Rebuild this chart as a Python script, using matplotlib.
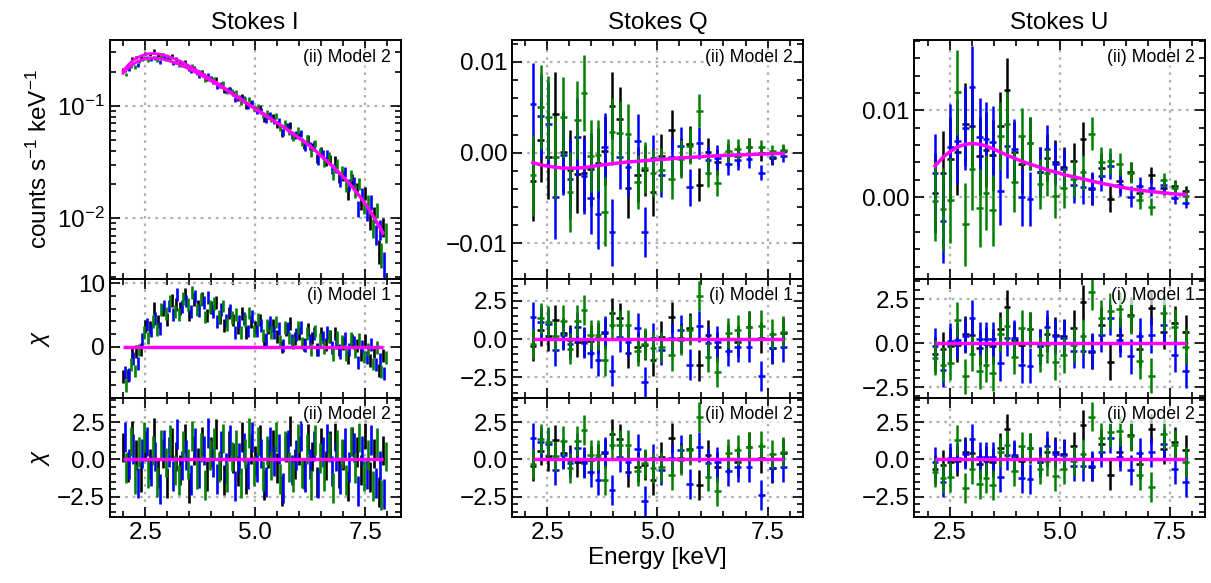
import numpy as np
import matplotlib
matplotlib.use("Agg")
import matplotlib.pyplot as plt
from matplotlib.ticker import MultipleLocator, FixedLocator, FuncFormatter

plt.rcParams['font.family'] = ['Liberation Sans', 'DejaVu Sans']
plt.rcParams['mathtext.fontset'] = 'custom'
plt.rcParams['mathtext.rm'] = 'Liberation Sans'
plt.rcParams['mathtext.it'] = 'Liberation Sans:italic'
plt.rcParams['font.size'] = 17.5

#==================================================================================================================
# data : three detectors (black, blue, green)
#==================================================================================================================

DET_COLORS = ["black", "blue", "green"]

# Stokes I spectra, 0.1 keV channels, each detector shifted slightly in energy
E_I = [2.0, 2.1, 2.2, 2.3, 2.4, 2.5, 2.6, 2.7, 2.8, 2.9, 3.0, 3.1, 3.2, 3.3, 3.4, 3.5, 3.6, 3.7, 3.8, 3.9,
       4.0, 4.1, 4.2, 4.3, 4.4, 4.5, 4.6, 4.7, 4.8, 4.9, 5.0, 5.1, 5.2, 5.3, 5.4, 5.5, 5.6, 5.7, 5.8, 5.9,
       6.0, 6.1, 6.2, 6.3, 6.4, 6.5, 6.6, 6.7, 6.8, 6.9, 7.0, 7.1, 7.2, 7.3, 7.4, 7.5, 7.6, 7.7, 7.8, 7.9]
DET_SHIFT = [0.0, 0.033, 0.067]
BIN_WIDTH = 0.1
EXPOSURE = 33000.0

I_BLACK = [.2113, .2238, .2639, .2687, .2670, .2944, .2892, .3089, .2816, .2887, .2633, .2789, .2608, .2439, .2499,
           .2112, .2198, .2024, .2022, .1738, .1756, .1749, .1513, .1357, .1418, .1286, .1161, .1228, .0996, .1049,
           .0945, .0968, .0764, .0820, .0798, .0682, .0575, .0665, .0670, .0543, .0544, .0451, .0509, .0432, .0340,
           .0396, .0320, .0332, .0327, .0232, .0243, .0167, .0221, .0183, .0138, .0169, .0095, .0109, .0052, .0084]
I_BLUE = [.2062, .2126, .2377, .2317, .2584, .2712, .2582, .2677, .2469, .2685, .2592, .2388, .2539, .2288, .2244,
          .2021, .2114, .1863, .1884, .1878, .1646, .1482, .1550, .1371, .1412, .1140, .1186, .1156, .0994, .1071,
          .0904, .0900, .0756, .0838, .0735, .0732, .0576, .0663, .0551, .0557, .0572, .0435, .0438, .0450, .0332,
          .0371, .0372, .0277, .0282, .0217, .0260, .0198, .0208, .0122, .0164, .0113, .0140, .0072, .0080, .0039]
I_GREEN = [.1905, .2244, .2215, .2491, .2676, .2534, .2701, .2532, .2725, .2583, .2659, .2422, .2285, .2393, .2196,
           .2254, .1954, .1989, .1716, .1771, .1737, .1536, .1583, .1333, .1343, .1311, .1085, .1133, .1151, .0947,
           .0993, .0824, .0860, .0761, .0811, .0641, .0700, .0598, .0530, .0601, .0475, .0506, .0387, .0464, .0389,
           .0319, .0353, .0244, .0305, .0264, .0194, .0240, .0175, .0203, .0128, .0139, .0083, .0119, .0048, .0076]

# model 2 curves for Stokes I (upper: black unit, lower: blue/green units)
I_MODEL_HI = [.205, .228, .250, .266, .278, .286, .292, .292, .290, .285, .278, .269, .259, .250, .238, .227, .215,
              .204, .193, .182, .172, .163, .154, .145, .136, .128, .121, .114, .107, .101, .095, .090, .085, .080,
              .075, .071, .067, .063, .059, .0555, .052, .049, .0457, .0425, .0392, .036, .0333, .0305, .028, .0257,
              .0235, .0213, .0192, .0172, .0153, .0135, .0118, .0102, .0088, .0075]
I_MODEL_LO = [.195, .215, .232, .245, .255, .261, .265, .266, .264, .260, .255, .248, .240, .232, .222, .213, .203,
              .193, .184, .175, .166, .157, .149, .141, .133, .125, .118, .111, .105, .099, .093, .088, .083, .078,
              .074, .070, .066, .062, .058, .0545, .051, .048, .0449, .0418, .0386, .0355, .0328, .0301, .0276,
              .0253, .0231, .0210, .0189, .0169, .0151, .0133, .0116, .0100, .0086, .0073]

# residuals of Stokes I, model 1
I_CHI1_BLACK = [-4.7, -4.5, -0.9, -0.7, -0.4, 3.2, 3.1, 6.0, 4.0, 5.8, 4.3, 7.3, 6.7, 6.0, 8.3, 5.0, 7.4, 6.4, 7.6,
                4.9, 6.2, 7.0, 4.6, 3.3, 5.3, 4.2, 3.1, 5.2, 2.2, 4.0, 3.0, 4.2, 1.0, 3.0, 3.4, 1.6, 0.0, 2.7, 3.7,
                1.3, 2.1, 0.4, 2.7, 1.4, -0.4, 2.1, 0.4, 1.6, 2.1, -0.5, 0.5, -1.7, 1.1, 0.2, -1.2, 1.0, -2.1, -0.8,
                -3.7, -1.3]
I_CHI1_BLUE = [-4.0, -4.3, -1.8, -2.6, 1.2, 3.5, 2.6, 4.4, 2.9, 6.4, 6.4, 5.1, 8.2, 6.3, 7.2, 5.5, 7.9, 5.7, 7.0,
               7.8, 5.5, 4.0, 5.9, 4.1, 5.7, 2.3, 4.0, 4.5, 2.5, 4.8, 2.6, 3.3, 1.2, 3.8, 2.3, 2.9, 0.2, 2.9, 1.1,
               1.9, 3.1, 0.2, 1.0, 2.1, -0.5, 1.5, 2.2, -0.1, 0.7, -0.9, 1.3, -0.4, 0.7, -2.4, 0.1, -1.7, 0.4, -2.8,
               -1.9, -4.2]
I_CHI1_GREEN = [-6.1, -2.8, -3.8, -0.5, 2.3, 1.4, 4.0, 2.7, 5.9, 5.2, 7.2, 5.5, 5.1, 7.6, 6.6, 8.5, 5.8, 7.4, 4.7,
                6.3, 6.8, 4.8, 6.4, 3.5, 4.6, 5.1, 2.3, 4.1, 5.3, 2.5, 4.3, 1.8, 3.3, 2.2, 3.9, 0.9, 3.0, 1.4, 0.6,
                3.0, 0.6, 2.1, -0.4, 2.5, 1.2, -0.1, 1.6, -1.2, 1.5, 0.8, -1.2, 1.3, -0.7, 1.2, -1.6, -0.4, -2.7,
                -0.1, -3.9, -1.7]

# residuals of Stokes I, model 2
I_CHI2_BLACK = [0.8, -0.5, 1.6, 0.3, -1.2, 0.9, -0.3, 1.8, -0.9, 0.4, -1.6, 1.1, 0.2, -0.7, 1.4, -1.9, 0.6, -0.2,
                1.2, -1.1, 0.5, 1.7, -0.4, -1.4, 0.9, 0.1, -0.8, 1.5, -1.3, 0.7, -0.1, 1.3, -1.7, 0.4, 1.0, -0.6,
                -2.1, 0.8, 1.9, -0.3, 0.6, -1.0, 1.4, 0.2, -1.5, 1.1, -0.4, 0.9, 1.6, -0.9, 0.3, -1.8, 1.2, 0.5,
                -0.7, 1.7, -1.2, 0.4, -2.2, 0.6]
I_CHI2_BLUE = [1.5, -0.3, 0.7, -1.6, 0.4, 1.2, -0.8, 0.2, -2.0, 1.0, 0.5, -1.1, 1.7, -0.4, 0.3, -1.4, 1.1, -0.9,
               0.6, 1.8, -0.2, -1.3, 0.9, -0.6, 1.3, -1.8, 0.1, 0.8, -1.0, 1.5, -0.5, 0.4, -1.5, 1.2, -0.1, 0.7,
               -1.9, 1.0, -0.7, 0.3, 1.6, -1.2, -0.3, 0.9, -1.6, 0.5, 1.4, -0.8, 0.2, -1.3, 1.1, -0.5, 0.8, -2.1,
               0.6, -1.0, 1.3, -1.6, -0.4, -2.3]
I_CHI2_GREEN = [-0.6, 1.2, -1.3, 0.5, 1.5, -0.9, 0.6, -1.5, 1.0, -0.2, 1.3, -0.7, -1.4, 0.9, -0.3, 1.6, -1.0, 0.8,
                -1.7, 0.3, 1.1, -0.5, 1.4, -1.2, 0.2, 1.0, -1.6, 0.4, 1.8, -0.8, 1.2, -1.1, 0.6, -0.4, 1.5, -1.3,
                0.9, -0.5, -1.2, 1.4, -0.9, 0.7, -1.7, 1.3, 0.1, -1.1, 0.8, -1.9, 1.0, 0.4, -1.4, 1.2, -0.6, 1.5,
                -1.1, 0.3, -1.8, 1.1, -2.4, 0.2]

# Stokes Q and U, rebinned (values in units of 1e-3 counts s^-1 keV^-1)
E_QU = [2.17, 2.35, 2.52, 2.68, 2.86, 3.01, 3.18, 3.33, 3.48, 3.65, 3.80, 3.97, 4.14, 4.33, 4.55,
        4.71, 4.90, 5.09, 5.32, 5.53, 5.73, 5.95, 6.15, 6.36, 6.61, 6.82, 7.08, 7.36, 7.61, 7.86]
QU_XERR = 0.075

Q_ERR = [4.5, 4.6, 4.6, 4.6, 4.5, 4.4, 4.3, 4.2, 4.0, 3.9, 3.8, 3.7, 3.5, 3.3, 3.0,
         2.8, 2.6, 2.4, 2.2, 2.1, 2.0, 1.8, 1.6, 1.4, 1.25, 1.1, 1.0, 0.85, 0.75, 0.65]
Q_BLACK = [-3.08, 1.41, -0.49, 4.27, 0.10, -1.90, -2.35, -2.28, -1.83, -1.15, 0.20, 5.18, 3.75, -3.87, -2.42,
           -1.94, -4.37, -0.32, 2.50, -0.43, 0.94, -3.52, 0.06, -1.03, -0.29, -0.42, 0.63, -0.07, -0.56, 0.19]
Q_BLUE = [5.38, 4.03, 3.19, -4.89, -0.21, -2.91, 1.74, -2.57, -4.99, -6.76, 0.62, -8.77, -0.49, -1.53, 1.24,
          -8.75, -0.63, -2.45, -0.52, 0.72, -3.84, 1.05, -0.83, -0.55, -1.25, -0.79, -0.70, -2.21, -0.52, -0.39]
Q_GREEN = [-2.50, 5.04, 3.88, -0.52, 3.88, -4.36, 3.63, 6.54, -0.39, -0.29, -6.53, 2.30, 2.21, 2.11, -3.26,
           -1.64, -2.24, -1.93, -2.96, -0.66, 0.72, 4.63, -2.24, -3.35, 0.21, 0.43, 0.63, 0.59, 0.14, 0.26]
Q_MODEL1 = [-1.00, -1.22, -1.36, -1.47, -1.54, -1.56, -1.55, -1.50, -1.42, -1.31, -1.22, -1.13, -1.04, -0.96, -0.88,
            -0.82, -0.76, -0.70, -0.63, -0.55, -0.49, -0.43, -0.38, -0.32, -0.27, -0.23, -0.19, -0.15, -0.10, -0.06]
Q_MODEL2 = [-1.10, -1.35, -1.50, -1.62, -1.70, -1.72, -1.70, -1.65, -1.55, -1.42, -1.32, -1.22, -1.12, -1.03, -0.95,
            -0.88, -0.81, -0.75, -0.67, -0.58, -0.52, -0.46, -0.40, -0.34, -0.29, -0.25, -0.21, -0.16, -0.11, -0.07]

U_ERR = [4.6, 4.8, 4.9, 4.9, 4.8, 4.7, 4.5, 4.3, 4.1, 3.9, 3.7, 3.5, 3.3, 3.1, 2.9,
         2.7, 2.5, 2.3, 2.1, 2.0, 1.9, 1.7, 1.5, 1.35, 1.2, 1.05, 0.95, 0.85, 0.75, 0.6]
U_BLACK = [0.52, 2.78, 4.37, 5.16, 8.40, 8.20, 4.79, 5.47, 4.82, 8.20, 12.32, 5.17, 3.82, 6.19, 2.90,
           4.55, 4.10, 3.47, 4.18, 6.72, 0.94, 3.40, -0.19, 1.85, 2.91, 0.45, 2.57, 1.07, 1.24, 0.66]
U_BLUE = [2.73, -2.79, 5.79, 6.44, 7.92, 12.69, 6.96, 6.72, 6.38, 0.71, 5.92, 5.52, 0.02, -0.20, 2.90,
          5.58, 3.85, 3.27, 1.43, 1.22, 1.01, 2.42, 3.56, 1.46, 0.07, 1.26, 1.11, 1.40, -0.09, -0.64]
U_GREEN = [-0.40, -1.40, -0.34, 12.12, -3.12, 3.24, -1.24, 0.52, -1.49, 7.07, 8.40, 1.80, 7.02, 6.19, 1.51,
           2.80, 0.15, 1.06, 2.14, 2.86, 7.32, 4.05, 4.15, 3.79, 2.80, -0.27, -1.09, 1.97, 1.10, 0.17]
U_MODEL1 = [3.4, 4.4, 5.1, 5.6, 5.9, 6.0, 5.95, 5.75, 5.5, 5.1, 4.8, 4.45, 4.1, 3.75, 3.4,
            3.12, 2.87, 2.58, 2.33, 2.08, 1.84, 1.6, 1.4, 1.2, 0.96, 0.81, 0.66, 0.51, 0.39, 0.29]
U_MODEL2 = [3.6, 4.6, 5.3, 5.8, 6.1, 6.2, 6.1, 5.9, 5.6, 5.2, 4.85, 4.5, 4.15, 3.8, 3.45,
            3.15, 2.9, 2.6, 2.35, 2.1, 1.85, 1.6, 1.4, 1.2, 0.95, 0.8, 0.65, 0.5, 0.38, 0.28]

#==================================================================================================================

MAGENTA = "#ff00ff"
GRID_KW = dict(color="#b0b0b0", linestyle=(0, (1.2, 2.2)), linewidth=1.6)


def fmt_dec(n):
    def f(v, pos):
        v = round(v, 8) + 0.0
        return f"{v:.{n}f}".replace("-", "\u2212")
    return FuncFormatter(f)


def style_axis(ax, yticks=None, yminor=None, yfmt=None):
    ax.set_axisbelow(True)
    ax.grid(True, which="major", **GRID_KW)
    ax.tick_params(which="both", direction="in", top=True, right=True, width=1.2)
    ax.tick_params(which="major", length=7, labelsize=17.5)
    ax.tick_params(which="minor", length=4)
    ax.xaxis.set_major_locator(FixedLocator([2.5, 5.0, 7.5]))
    ax.xaxis.set_minor_locator(MultipleLocator(0.5))
    if yticks is not None:
        ax.yaxis.set_major_locator(FixedLocator(yticks))
    if yminor is not None:
        ax.yaxis.set_minor_locator(MultipleLocator(yminor))
    if yfmt is not None:
        ax.yaxis.set_major_formatter(yfmt)
    for sp in ax.spines.values():
        sp.set_linewidth(1.4)


def model_tag(ax, text):
    ax.annotate(text, xy=(1, 1), xycoords="axes fraction", xytext=(-7, -6), textcoords="offset points",
                ha="right", va="top", fontsize=12.8, zorder=6,
                bbox=dict(facecolor="white", edgecolor="none", alpha=0.7, pad=0.5))


def draw_bars(ax, x, y, yerr, xerr, color, lw):
    ax.errorbar(x, y, yerr=yerr, xerr=xerr, fmt="none", ecolor=color, elinewidth=lw, capsize=0, zorder=2)


#==================================================================================================================

fig = plt.figure(figsize=(12.11, 5.83), dpi=100)
gs = fig.add_gridspec(3, 3, height_ratios=[2, 1, 1], left=0.0908, right=0.995, top=0.931, bottom=0.113,
                      hspace=0, wspace=0.384)
axes = np.empty((3, 3), dtype=object)
for r in range(3):
    for c in range(3):
        axes[r, c] = fig.add_subplot(gs[r, c], sharex=axes[0, 0] if (r or c) else None)

e_i = np.array(E_I)

# ---------------- Stokes I ----------------
i_data = [I_BLACK, I_BLUE, I_GREEN]
i_chi1 = [I_CHI1_BLACK, I_CHI1_BLUE, I_CHI1_GREEN]
i_chi2 = [I_CHI2_BLACK, I_CHI2_BLUE, I_CHI2_GREEN]
for d in range(3):
    x = e_i + DET_SHIFT[d]
    rate = np.array(i_data[d])
    err = np.sqrt(rate / (EXPOSURE * BIN_WIDTH))
    draw_bars(axes[0, 0], x, rate, err, None, DET_COLORS[d], 1.9)
    draw_bars(axes[1, 0], x, i_chi1[d], 1.0, None, DET_COLORS[d], 1.9)
    draw_bars(axes[2, 0], x, i_chi2[d], 1.0, None, DET_COLORS[d], 1.9)
axes[0, 0].plot(e_i, I_MODEL_HI, color=MAGENTA, lw=2.0, zorder=3)
axes[0, 0].plot(e_i, I_MODEL_LO, color=MAGENTA, lw=2.0, zorder=3)
for r in (1, 2):
    axes[r, 0].hlines(0, e_i.min(), e_i.max(), color=MAGENTA, lw=2.5, zorder=3)

axes[0, 0].set_yscale("log")
axes[0, 0].set_ylim(0.0029, 0.384)
axes[1, 0].set_ylim(-8.0, 10.7)
axes[2, 0].set_ylim(-3.87, 4.13)

# ---------------- Stokes Q / U ----------------
e_qu = np.array(E_QU)
for c, (vals, err, m1, m2) in zip((1, 2), (((Q_BLACK, Q_BLUE, Q_GREEN), Q_ERR, Q_MODEL1, Q_MODEL2),
                                            ((U_BLACK, U_BLUE, U_GREEN), U_ERR, U_MODEL1, U_MODEL2))):
    err = np.array(err)
    for d in range(3):
        v = np.array(vals[d])
        draw_bars(axes[0, c], e_qu, v * 1e-3, err * 1e-3, QU_XERR, DET_COLORS[d], 1.8)
        draw_bars(axes[1, c], e_qu, (v - np.array(m1)) / err, 1.0, QU_XERR, DET_COLORS[d], 1.8)
        draw_bars(axes[2, c], e_qu, (v - np.array(m2)) / err, 1.0, QU_XERR, DET_COLORS[d], 1.8)
    axes[0, c].plot(e_qu, np.array(m2) * 1e-3, color=MAGENTA, lw=2.5, zorder=3)
    for r in (1, 2):
        axes[r, c].hlines(0, e_qu.min(), e_qu.max(), color=MAGENTA, lw=2.5, zorder=3)

axes[0, 1].set_ylim(-0.0139, 0.0124)
axes[1, 1].set_ylim(-3.85, 3.95)
axes[2, 1].set_ylim(-3.87, 4.13)
axes[0, 2].set_ylim(-0.0094, 0.0181)
axes[1, 2].set_ylim(-3.1, 3.66)
axes[2, 2].set_ylim(-3.87, 4.13)

axes[0, 0].set_xlim(1.7, 8.3)

# ---------------- styling ----------------
style_axis(axes[0, 0])
style_axis(axes[1, 0], [0, 10], 2)
style_axis(axes[2, 0], [-2.5, 0, 2.5], 0.5, fmt_dec(1))
style_axis(axes[0, 1], [-0.01, 0, 0.01], 0.002, fmt_dec(2))
style_axis(axes[0, 2], [0, 0.01], 0.002, fmt_dec(2))
for c in (1, 2):
    style_axis(axes[1, c], [-2.5, 0, 2.5], 0.5, fmt_dec(1))
    style_axis(axes[2, c], [-2.5, 0, 2.5], 0.5, fmt_dec(1))

for r in range(2):
    for c in range(3):
        axes[r, c].tick_params(labelbottom=False)

for c in range(3):
    model_tag(axes[0, c], "(ii) Model 2")
    model_tag(axes[1, c], "(i) Model 1")
    model_tag(axes[2, c], "(ii) Model 2")

for c, title in enumerate(["Stokes I", "Stokes Q", "Stokes U"]):
    axes[0, c].set_title(title, fontsize=17.5, pad=8)

axes[0, 0].set_ylabel("counts s$^{-1}$ keV$^{-1}$")
axes[1, 0].set_ylabel("$\\chi$")
axes[2, 0].set_ylabel("$\\chi$")
fig.align_ylabels(list(axes[:, 0]))
axes[2, 1].set_xlabel("Energy [keV]", labelpad=2)

fig.savefig("out.png", dpi=100)
